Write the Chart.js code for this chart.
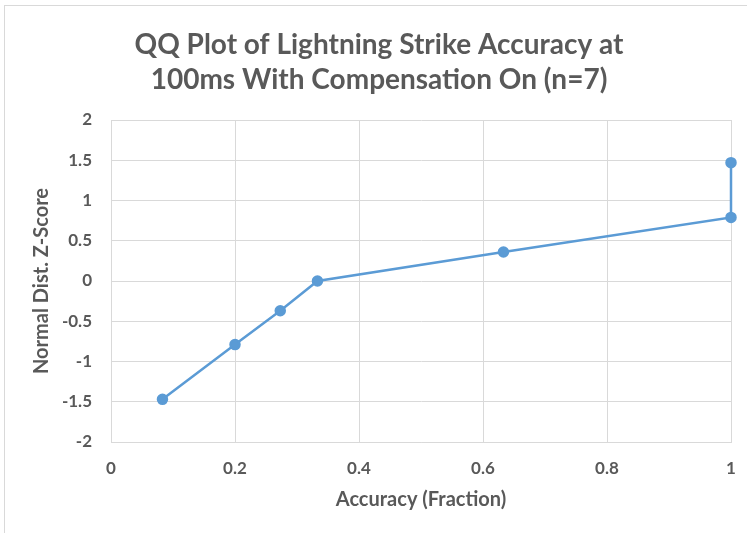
<!DOCTYPE html>
<html>
<head>
<meta charset="utf-8">
<script src="https://cdn.jsdelivr.net/npm/chart.js@4/dist/chart.umd.min.js"></script>
<style>
html,body{margin:0;padding:0;background:#fff;}
#wrap{position:relative;width:747px;height:533px;}
#frame{position:absolute;left:4px;top:5px;width:760px;height:560px;border-left:1px solid #d9d9d9;border-top:1px solid #d9d9d9;pointer-events:none;}
</style>
</head>
<body>
<div id="wrap">
<canvas id="c" width="747" height="533"></canvas>
<div id="frame"></div>
</div>
<script>
const titleLines = ["QQ Plot of Lightning Strike Accuracy at", "100ms With Compensation On (n=7)"];
const xAxisTitle = "Accuracy (Fraction)";
const yAxisTitle = "Normal Dist. Z-Score";
const accuracy = [0.083, 0.2, 0.273, 0.333, 0.633, 1, 1];
const zScore = [-1.47, -0.79, -0.37, 0, 0.36, 0.79, 1.47];
const xTicks = [0, 0.2, 0.4, 0.6, 0.8, 1];
const yTicks = [-2, -1.5, -1, -0.5, 0, 0.5, 1, 1.5, 2];

const points = accuracy.map((x, i) => ({x: x, y: zScore[i]}));
const txt = '#595959';
const gridC = '#d9d9d9';
const fam = 'Lato, "Open Sans", sans-serif';

new Chart(document.getElementById('c'), {
  type: 'scatter',
  data: {
    datasets: [{
      data: points,
      showLine: true,
      clip: false,
      borderColor: '#5b9bd5',
      backgroundColor: '#5b9bd5',
      borderWidth: 2.5,
      pointRadius: 4.5,
      pointHoverRadius: 4.5,
      tension: 0
    }]
  },
  options: {
    responsive: false,
    animation: false,
    devicePixelRatio: 1,
    layout: {padding: {left: 11, right: 0, top: 0, bottom: 0}},
    plugins: {
      legend: {display: false},
      tooltip: {enabled: false},
      title: {
        display: true,
        text: titleLines,
        color: txt,
        font: {family: fam, size: 28, weight: 'bold', lineHeight: '35px'},
        padding: {top: 27, bottom: 23}
      }
    },
    scales: {
      x: {
        type: 'linear',
        min: 0, max: 1,
        afterBuildTicks: s => { s.ticks = xTicks.map(v => ({value: v})); },
        afterFit: s => { s.height = 91; s.paddingLeft = 0; s.paddingRight = 0; },
        grid: {color: gridC, drawTicks: false},
        border: {color: gridC},
        ticks: {color: txt, font: {family: fam, size: 17, weight: 'bold'}, padding: 16,
                callback: v => String(v)},
        title: {display: true, text: xAxisTitle, color: txt,
                font: {family: fam, size: 20, weight: 'bold'}, padding: {top: 0, bottom: 21}}
      },
      y: {
        type: 'linear',
        min: -2, max: 2,
        afterBuildTicks: s => { s.ticks = yTicks.map(v => ({value: v})); },
        afterFit: s => { s.width = 100; },
        grid: {color: gridC, drawTicks: false},
        border: {color: gridC},
        ticks: {color: txt, font: {family: fam, size: 17, weight: 'bold'}, padding: 19,
                callback: v => String(v)},
        title: {display: true, text: yAxisTitle, color: txt,
                font: {family: fam, size: 20, weight: 'bold'}, padding: {top: 19, bottom: 0}}
      },
      yR: {
        type: 'linear',
        position: 'right',
        min: -2, max: 2,
        display: true,
        afterFit: s => { s.width = 16; },
        grid: {display: false, drawTicks: false},
        border: {display: false},
        ticks: {display: false}
      }
    }
  }
});
</script>
</body>
</html>
